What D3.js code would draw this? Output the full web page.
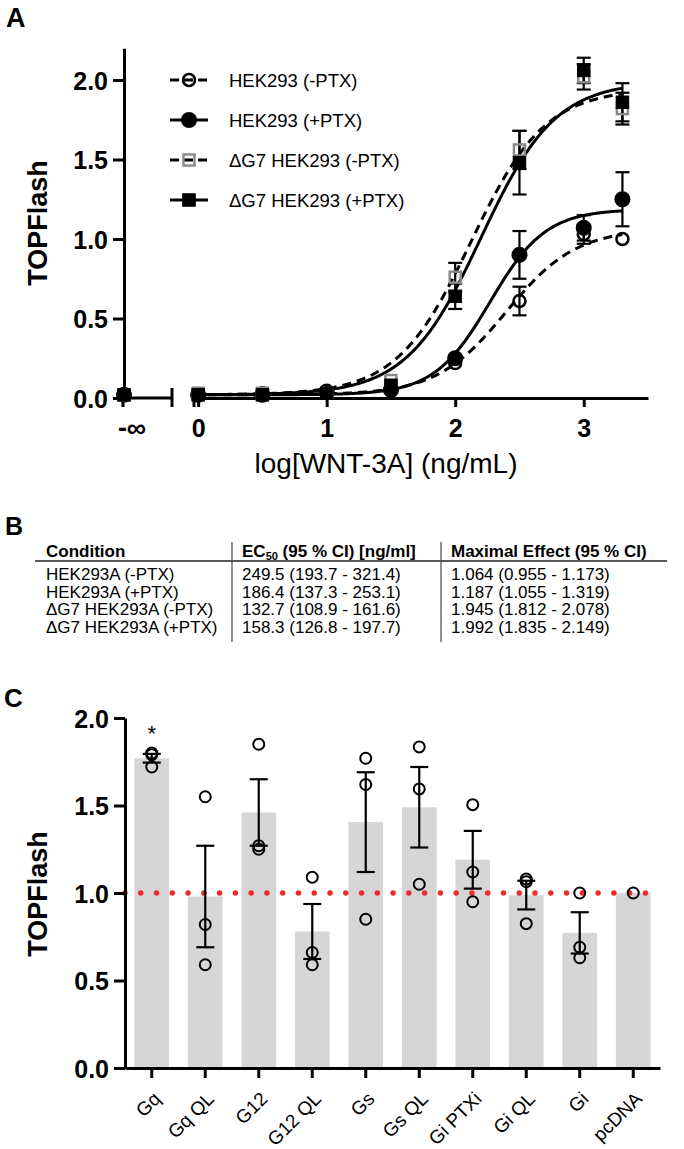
<!DOCTYPE html>
<html><head><meta charset="utf-8">
<script src="https://cdn.jsdelivr.net/npm/d3@7"></script>
<style>
body{margin:0;background:#fff}
svg{display:block}
text{font-family:"Liberation Sans",Arial,Helvetica,sans-serif;fill:#000}
</style>
</head><body>
<svg id="c" width="684" height="1149"></svg>
<script>
// ---------- Panel A data ----------
const doses = [-Infinity, 0, 0.5, 1, 1.5, 2, 2.5, 3, 3.301];
const seriesNames = ["HEK293 (-PTX)", "HEK293 (+PTX)", "\u0394G7 HEK293 (-PTX)", "\u0394G7 HEK293 (+PTX)"];
const hekMinusPTX    = [0.02, 0.02, 0.03, 0.04, 0.06, 0.22, 0.61, 1.03, 1.00];
const hekMinusPTXErr = [0.01, 0.01, 0.01, 0.01, 0.01, 0.02, 0.09, 0.06, 0.02];
const hekPlusPTX     = [0.02, 0.02, 0.02, 0.04, 0.05, 0.25, 0.90, 1.07, 1.25];
const hekPlusPTXErr  = [0.01, 0.01, 0.01, 0.01, 0.01, 0.02, 0.15, 0.08, 0.17];
const dG7MinusPTX    = [0.02, 0.03, 0.03, 0.03, 0.11, 0.76, 1.56, 2.02, 1.82];
const dG7MinusPTXErr = [0.01, 0.01, 0.01, 0.01, 0.02, 0.09, 0.12, 0.08, 0.10];
const dG7PlusPTX     = [0.02, 0.02, 0.02, 0.03, 0.08, 0.64, 1.48, 2.06, 1.86];
const dG7PlusPTXErr  = [0.01, 0.01, 0.01, 0.01, 0.02, 0.08, 0.20, 0.08, 0.12];
// fit parameters (panel B)
const ec50   = [249.5, 186.4, 132.7, 158.3];
const ec50Lo = [193.7, 137.3, 108.9, 126.8];
const ec50Hi = [321.4, 253.1, 161.6, 197.7];
const emax   = [1.064, 1.187, 1.945, 1.992];
const emaxLo = [0.955, 1.055, 1.812, 1.835];
const emaxHi = [1.173, 1.319, 2.078, 2.149];
const hill   = [1.6, 2.0, 1.5, 1.5];
const fitBottom = 0.02;
const tableConditions = ["HEK293A (-PTX)", "HEK293A (+PTX)", "\u0394G7 HEK293A (-PTX)", "\u0394G7 HEK293A (+PTX)"];
const ticksAy = [0, 0.5, 1, 1.5, 2];
const ticksAx = [0, 1, 2, 3];

// ---------- Panel C data ----------
const gCategories = ["Gq", "Gq QL", "G12", "G12 QL", "Gs", "Gs QL", "Gi PTXi", "Gi QL", "Gi", "pcDNA"];
const gMeans = [1.77, 0.98, 1.46, 0.78, 1.405, 1.49, 1.19, 0.988, 0.772, 1.00];
const gSEM   = [0.025, 0.29, 0.19, 0.157, 0.285, 0.23, 0.165, 0.082, 0.118, 0];
const gPoints = [[1.80, 1.79, 1.72], [1.55, 0.82, 0.59], [1.85, 1.27, 1.25], [1.09, 0.66, 0.59],
                 [1.77, 1.62, 0.85], [1.835, 1.595, 1.05], [1.505, 1.12, 0.95], [1.08, 1.065, 0.825],
                 [1.00, 0.69, 0.63], [1.00]];
const ticksCy = [0, 0.5, 1, 1.5, 2];
const refLine = 1.0;

// ---------- Drawing ----------
const svg = d3.select("#c");
const fmt1 = d3.format(".1f");

function styleAxis(g, fs) {
  g.attr("font-size", null).attr("font-family", null);
  g.select(".domain").attr("stroke", "#000").attr("stroke-width", 3);
  g.selectAll(".tick line").attr("stroke", "#000").attr("stroke-width", 3);
  g.selectAll(".tick text").attr("font-size", fs).attr("font-weight", "bold").attr("fill", "#000");
}

// Panel labels
svg.append("text").attr("x", 6).attr("y", 27).attr("font-size", 27).attr("font-weight", "bold").text("A");
svg.append("text").attr("x", 5).attr("y", 535).attr("font-size", 25).attr("font-weight", "bold").text("B");
svg.append("text").attr("x", 4).attr("y", 707).attr("font-size", 26).attr("font-weight", "bold").text("C");

// ===== Panel A =====
const yA = d3.scaleLinear().domain([0, 2.2]).range([398, 48.2]);
const xA = d3.scaleLinear().domain([-0.04, 3.5]).range([193, 648]);
const xInf = 124;
const px = d => d === -Infinity ? xInf : xA(d);

const gA = svg.append("g");
// y axis
const ayA = gA.append("g").attr("transform", `translate(${xInf},0)`)
  .call(d3.axisLeft(yA).tickValues(ticksAy).tickFormat(fmt1).tickSize(11).tickSizeOuter(0).tickPadding(5));
styleAxis(ayA, 25);
ayA.selectAll(".tick text").attr("dy", "0.36em");
// x axis main segment
const axA = gA.append("g").attr("transform", "translate(0,398)")
  .call(d3.axisBottom(xA).tickValues(ticksAx).tickFormat(d3.format("d")).tickSize(9).tickSizeOuter(0).tickPadding(12));
styleAxis(axA, 25);
// break segment (-inf)
gA.append("line").attr("x1", xInf).attr("x2", 172).attr("y1", 398).attr("y2", 398).attr("stroke", "#000").attr("stroke-width", 3);
gA.append("line").attr("x1", 172).attr("x2", 172).attr("y1", 388).attr("y2", 407).attr("stroke", "#000").attr("stroke-width", 3);
gA.append("line").attr("x1", 194).attr("x2", 194).attr("y1", 388).attr("y2", 407).attr("stroke", "#000").attr("stroke-width", 3);
gA.append("line").attr("x1", xInf - 1).attr("x2", xInf - 1).attr("y1", 398).attr("y2", 407).attr("stroke", "#000").attr("stroke-width", 3);
gA.append("text").attr("x", 132).attr("y", 437).attr("text-anchor", "middle").attr("font-size", 27).attr("font-weight", "bold").text("-\u221e");

// axis titles
gA.append("text").attr("transform", "translate(47,223) rotate(-90)").attr("text-anchor", "middle")
  .attr("font-size", 27).attr("font-weight", "bold").text("TOPFlash");
gA.append("text").attr("x", 386).attr("y", 473).attr("text-anchor", "middle").attr("font-size", 28)
  .text("log[WNT-3A] (ng/mL)");

const seriesVals = [hekMinusPTX, hekPlusPTX, dG7MinusPTX, dG7PlusPTX];
const seriesErr = [hekMinusPTXErr, hekPlusPTXErr, dG7MinusPTXErr, dG7PlusPTXErr];
const dashed = [true, false, true, false];
const markerShape = ["circle", "circle", "square", "square"];
const markerFill = ["none", "#000", "none", "#000"];
const markerStroke = ["#000", "#000", "#8a8a8a", "#000"];

// fitted curves
const xs = d3.range(-0.04, 3.3011, 0.01);
const line = d3.line().x(d => xA(d[0])).y(d => yA(d[1]));
seriesVals.forEach((s, i) => {
  const lec = Math.log10(ec50[i]);
  const pts = xs.map(x => [x, fitBottom + (emax[i] - fitBottom) / (1 + Math.pow(10, (lec - x) * hill[i]))]);
  gA.append("path").attr("d", line(pts)).attr("fill", "none").attr("stroke", "#000").attr("stroke-width", 3)
    .attr("stroke-dasharray", dashed[i] ? "9,6" : null);
});

function drawMarker(g, shape, cx, cy, fill, stroke) {
  if (shape === "circle") {
    g.append("circle").attr("cx", cx).attr("cy", cy).attr("r", fill === "none" ? 6 : 6.8)
      .attr("fill", fill).attr("stroke", stroke).attr("stroke-width", 2.5);
  } else {
    const s = fill === "none" ? 11 : 12.5;
    g.append("rect").attr("x", cx - s / 2).attr("y", cy - s / 2).attr("width", s).attr("height", s)
      .attr("fill", fill).attr("stroke", stroke).attr("stroke-width", fill === "none" ? 2.5 : 1);
  }
}

// error bars
seriesVals.forEach((s, i) => {
  s.forEach((v, j) => {
    const e = seriesErr[i][j];
    if (e < 0.03) return;
    const x = px(doses[j]);
    gA.append("line").attr("x1", x).attr("x2", x).attr("y1", yA(v - e)).attr("y2", yA(v + e)).attr("stroke", "#000").attr("stroke-width", 2.2);
    [v - e, v + e].forEach(t => gA.append("line").attr("x1", x - 7).attr("x2", x + 7).attr("y1", yA(t)).attr("y2", yA(t)).attr("stroke", "#000").attr("stroke-width", 2.2));
  });
});
// markers
seriesVals.forEach((s, i) => {
  s.forEach((v, j) => drawMarker(gA, markerShape[i], px(doses[j]), yA(v), markerFill[i], markerStroke[i]));
});

// legend
const legY = [80, 120, 160, 200];
seriesNames.forEach((n, i) => {
  const y = legY[i];
  gA.append("line").attr("x1", 170).attr("x2", 208).attr("y1", y).attr("y2", y).attr("stroke", "#000").attr("stroke-width", 3)
    .attr("stroke-dasharray", dashed[i] ? "9,5" : null);
  drawMarker(gA, markerShape[i], 189, y, markerFill[i], markerStroke[i]);
  gA.append("text").attr("x", 229).attr("y", y + 7).attr("font-size", 18.5).text(n);
});

// ===== Panel B (table) =====
const gB = svg.append("g");
const colX = [46, 242, 451];
gB.append("line").attr("x1", 35).attr("x2", 667).attr("y1", 561).attr("y2", 561).attr("stroke", "#222").attr("stroke-width", 1.3);
[232, 441].forEach(x => gB.append("line").attr("x1", x).attr("x2", x).attr("y1", 542).attr("y2", 642).attr("stroke", "#555").attr("stroke-width", 1.3));
gB.append("text").attr("x", colX[0]).attr("y", 557).attr("font-size", 17).attr("font-weight", "bold").text("Condition");
const h2 = gB.append("text").attr("x", colX[1]).attr("y", 557).attr("font-size", 17).attr("font-weight", "bold");
h2.append("tspan").text("EC");
h2.append("tspan").attr("font-size", 11).attr("dy", 3).text("50");
h2.append("tspan").attr("dy", -3).text(" (95 % CI) [ng/ml]");
gB.append("text").attr("x", colX[2]).attr("y", 557).attr("font-size", 17).attr("font-weight", "bold").text("Maximal Effect (95 % CI)");
const rowY = [580, 597.7, 615.4, 633];
tableConditions.forEach((c, i) => {
  gB.append("text").attr("x", colX[0]).attr("y", rowY[i]).attr("font-size", 17).text(c);
  gB.append("text").attr("x", colX[1]).attr("y", rowY[i]).attr("font-size", 17)
    .text(`${ec50[i].toFixed(1)} (${ec50Lo[i].toFixed(1)} - ${ec50Hi[i].toFixed(1)})`);
  gB.append("text").attr("x", colX[2]).attr("y", rowY[i]).attr("font-size", 17)
    .text(`${emax[i].toFixed(3)} (${emaxLo[i].toFixed(3)} - ${emaxHi[i].toFixed(3)})`);
});

// ===== Panel C =====
const gC = svg.append("g");
const yC = d3.scaleLinear().domain([0, 2]).range([1068, 718]);
const xC = d3.scaleBand().domain(gCategories).range([125, 660]).paddingInner(0.35).paddingOuter(0.175);
const cx = c => xC(c) + xC.bandwidth() / 2;

gC.selectAll("rect.bar").data(gCategories).enter().append("rect")
  .attr("x", d => xC(d)).attr("width", xC.bandwidth())
  .attr("y", (d, i) => yC(gMeans[i])).attr("height", (d, i) => yC(0) - yC(gMeans[i]))
  .attr("fill", "#d6d6d6");

gC.append("line").attr("x1", 125).attr("x2", 645.6).attr("y1", yC(refLine)).attr("y2", yC(refLine))
  .attr("stroke", "#ee2a2a").attr("stroke-width", 5.5).attr("stroke-linecap", "round").attr("stroke-dasharray", "0,15.77");

gCategories.forEach((c, i) => {
  const m = gMeans[i], e = gSEM[i], x = cx(c);
  if (e > 0) {
    gC.append("line").attr("x1", x).attr("x2", x).attr("y1", yC(m - e)).attr("y2", yC(m + e)).attr("stroke", "#000").attr("stroke-width", 2.2);
    [m - e, m + e].forEach(t => gC.append("line").attr("x1", x - 9).attr("x2", x + 9).attr("y1", yC(t)).attr("y2", yC(t)).attr("stroke", "#000").attr("stroke-width", 2.2));
  }
  gPoints[i].forEach(p => gC.append("circle").attr("cx", x).attr("cy", yC(p)).attr("r", 5.5)
    .attr("fill", "none").attr("stroke", "#000").attr("stroke-width", 2));
});

gC.append("text").attr("x", cx("Gq")).attr("y", 741).attr("text-anchor", "middle").attr("font-size", 22).attr("fill", "#333").text("*");

const ayC = gC.append("g").attr("transform", "translate(125,0)")
  .call(d3.axisLeft(yC).tickValues(ticksCy).tickFormat(fmt1).tickSize(11).tickSizeOuter(0).tickPadding(5));
styleAxis(ayC, 25);
ayC.selectAll(".tick text").attr("dy", "0.36em");
const axC = gC.append("g").attr("transform", "translate(0,1068)")
  .call(d3.axisBottom(xC).tickSize(10).tickSizeOuter(0));
styleAxis(axC, 19);
axC.selectAll(".tick text").attr("font-weight", "normal").attr("y", 0).attr("dy", 0)
  .attr("text-anchor", "end").attr("transform", "translate(10,32) rotate(-45)");

gC.append("text").attr("transform", "translate(47,894) rotate(-90)").attr("text-anchor", "middle")
  .attr("font-size", 27).attr("font-weight", "bold").text("TOPFlash");
</script>
</body></html>
